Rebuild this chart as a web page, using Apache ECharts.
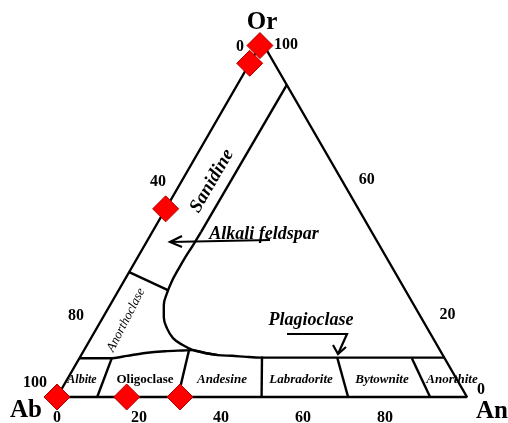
<!DOCTYPE html>
<html><head><meta charset="utf-8">
<script src="https://cdn.jsdelivr.net/npm/echarts@6/dist/echarts.min.js"></script>
<style>html,body{margin:0;padding:0;background:#fff;}#c{width:508px;height:423px;}</style>
</head><body><div id="c"></div>
<script>
// Sample compositions (mol %), Ab = 100 - An - Or
const sampleAn = [0, 0, 0, 0, 17, 30];
const sampleOr = [99, 94, 53, 0, 0, 0];
// Upper boundary of the plagioclase field (An, Or)
const plagTopAn = [0, 7.5, 11.3, 15.3, 19.9, 24.2, 26.6, 29.9, 33.4, 36.9, 40.5, 44.0, 53.7, 62.8, 88.9];
const plagTopOr = [10.9, 10.9, 11.6, 12.4, 12.9, 13.1, 13.2, 12.4, 11.8, 11.6, 11.3, 11.1, 11.1, 11.1, 11.1];
// Alkali feldspar / sanidine boundary: straight part
const sanidineAn = [12.1, 11.9];
const sanidineOr = [87.9, 46.5];
// Alkali feldspar boundary: curved part
const alkaliAn = [11.9, 11.8, 11.6, 11.6, 11.7, 12.2, 13.1, 14.8, 17.1, 20.0, 23.2, 26.6, 29.9, 33.4];
const alkaliOr = [46.5, 42.8, 39.2, 35.8, 32.7, 29.3, 25.9, 22.5, 19.4, 16.6, 14.7, 13.2, 12.4, 11.8];
// Anorthoclase / sanidine boundary
const anorthoclaseAn = [0, 12.0];
const anorthoclaseOr = [35.2, 30.1];
// Plagioclase sub-field dividers
const dividerBaseAn = [9.8, 29.5, 49.9, 71, 91];
const dividerTopAn = [7.9, 25.6, 44.3, 62.8, 81.1];
const dividerTopOr = [10.9, 13.2, 11.4, 11.1, 10.9];
// Tick labels
const bottomTicks = [0, 20, 40, 60, 80];   // An
const leftTicks = [100, 80, 40, 0];        // Ab
const rightTicks = [0, 20, 60, 100];       // Or
const plagNames = ['Albite', 'Oligoclase', 'Andesine', 'Labradorite', 'Bytownite', 'Anorthite'];

const SQ = Math.sqrt(3) / 2;
function T(an, or) { return [an + or / 2, or * SQ]; }

const chart = echarts.init(document.getElementById('c'), null, {renderer: 'canvas'});
const lineStyle = {color: '#000', width: 2.4};
function lineSeries(data, smooth) {
  return {type: 'line', data: data, symbol: 'none', smooth: smooth || false,
    lineStyle: lineStyle, clip: false, silent: true, z: 3};
}
const series = [];
series.push(lineSeries([T(0,0), T(100,0), T(0,100), T(0,0)]));
series.push(lineSeries(plagTopAn.map((a, i) => T(a, plagTopOr[i])), 0.3));
series.push(lineSeries(sanidineAn.map((a, i) => T(a, sanidineOr[i]))));
series.push(lineSeries(alkaliAn.map((a, i) => T(a, alkaliOr[i])), 0.4));
series.push(lineSeries(anorthoclaseAn.map((a, i) => T(a, anorthoclaseOr[i]))));
dividerBaseAn.forEach((b, i) => {
  series.push(lineSeries([T(b, 0), T(dividerTopAn[i], dividerTopOr[i])]));
});
series.push({
  type: 'scatter', symbol: 'diamond', symbolSize: 26, clip: false, z: 5,
  itemStyle: {color: '#ff0000', borderColor: '#b00000', borderWidth: 1, opacity: 1},
  data: sampleAn.map((a, i) => T(a, sampleOr[i]))
});

chart.setOption({
  animation: false,
  backgroundColor: '#fff',
  grid: {left: 57, right: 41, top: 42, bottom: 26},
  xAxis: {type: 'value', min: 0, max: 100, show: false},
  yAxis: {type: 'value', min: 0, max: 100 * SQ, show: false},
  series: series
});

const SERIF = '"Liberation Serif", "Times New Roman", serif';
function txt(text, x, y, font, rot) {
  return {type: 'text', x: x, y: y, rotation: rot ? rot * Math.PI / 180 : 0, z: 1,
    style: {text: text, font: font, fill: '#000', align: 'center', verticalAlign: 'middle',
      textAlign: 'center', textVerticalAlign: 'middle'}};
}
function px(an, or) { return chart.convertToPixel({gridIndex: 0}, T(an, or)); }

const g = [];
const tickFont = 'bold 16px ' + SERIF;
bottomTicks.forEach(v => { const p = px(v, 0); g.push(txt(String(v), p[0], p[1] + 21, tickFont)); });
leftTicks.forEach(v => { const o = 100 - v; const p = px(0, o);
  g.push(txt(String(v), p[0] - 22, p[1] - 14 + 19 * o / 100, tickFont)); });
rightTicks.forEach(o => { const p = px(100 - o, o);
  const dx = o === 0 ? 14 : 21 + 3 * o / 100;
  const dy = o === 0 ? -7 : -15 + 18 * o / 100;
  g.push(txt(String(o), p[0] + dx, p[1] + dy, tickFont)); });

const endFont = 'bold 25px ' + SERIF;
const pOr = px(0, 100), pAb = px(0, 0), pAn = px(100, 0);
g.push(txt('Or', pOr[0], pOr[1] - 19, endFont));
g.push(txt('Ab', pAb[0] - 31, pAb[1] + 14, endFont));
g.push(txt('An', pAn[0] + 25, pAn[1] + 15, endFont));

g.push(txt('Sanidine', 212, 181, 'italic bold 19px ' + SERIF, 60));
g.push(txt('Alkali feldspar', 264, 234, 'italic bold 18px ' + SERIF));
g.push(txt('Plagioclase', 311, 320, 'italic bold 18px ' + SERIF));
g.push(txt('Anorthoclase', 126, 320, 'italic 13px ' + SERIF, 63));

const subX = [82, 145, 222, 301, 382, 452];
const subFont = ['italic bold 12px ', 'bold 13px ', 'italic bold 13px ', 'italic bold 13px ', 'italic bold 13px ', 'italic bold 13px '];
plagNames.forEach((n, i) => g.push(txt(n, subX[i], 380, subFont[i] + SERIF)));

const arrowStyle = {stroke: '#000', lineWidth: 2.2, fill: null};
g.push({type: 'polyline', z: 4, shape: {points: [[270, 240], [170, 242]]}, style: arrowStyle});
g.push({type: 'polyline', z: 4, shape: {points: [[182, 236], [170, 242], [182, 247]]}, style: arrowStyle});
g.push({type: 'polyline', z: 4, shape: {points: [[287, 334], [347, 334], [338, 354]]}, style: arrowStyle});
g.push({type: 'polyline', z: 4, shape: {points: [[333, 345], [338, 354], [346, 347]]}, style: arrowStyle});

chart.setOption({graphic: {elements: g}});
</script>
</body></html>
